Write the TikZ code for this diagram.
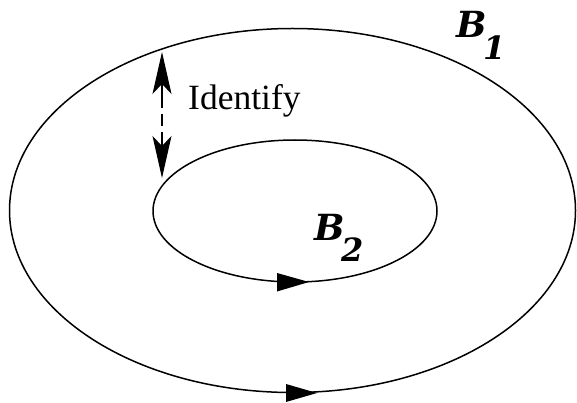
\documentclass[tikz,border=0pt]{standalone}
\usepackage{fontspec}
\setmainfont{Liberation Serif}
\newfontfamily\idfont{Liberation Serif}
\newfontfamily\labfont{DejaVu Serif}
\usetikzlibrary{arrows.meta}
\tikzset{
  curve/.style={line width=1.5pt},
  headtri/.style={fill=black},
  idtip/.style={-{Stealth[length=42pt,width=19pt,inset=10pt]}, line width=1.2pt},
  lab/.style={anchor=base west, inner sep=0pt},
}
\newcommand{\bsub}[2]{{\labfont\bfseries\itshape #1\kern-0.1em\raisebox{-0.6em}{\fontsize{32}{32}\selectfont #2}}}
\begin{document}
\begin{tikzpicture}[x=1pt,y=-1pt]
\useasboundingbox (0,0) rectangle (577,403);
% ellipses
\draw[curve] (292.5,210.5) ellipse [x radius=283, y radius=182];
\draw[curve] (295,211) ellipse [x radius=142, y radius=71];
% direction triangles
\fill[headtri] (277,273) -- (309,282) -- (277,291.5) -- cycle;
\fill[headtri] (286,384) -- (317,393) -- (286,402) -- cycle;
% identify arrow
\coordinate (ttop) at (162,52);
\coordinate (tbot) at (162,178);
\coordinate (btop) at (162,96);
\coordinate (bbot) at (162,132);
\draw[line width=1.2pt, dash pattern=on 12pt off 6pt] (btop) -- (bbot);
\draw[idtip] (btop) -- (ttop);
\draw[idtip] (bbot) -- (tbot);
\node[lab, font=\idfont\fontsize{35.5}{35.5}\selectfont] (id) at (188,110) {Identify};
\node[lab, font=\fontsize{36}{36}\selectfont] (b1) at (456,38) {\bsub{B}{1}};
\node[lab, font=\fontsize{36}{36}\selectfont] (b2) at (314,240) {\bsub{B}{2}};
\end{tikzpicture}
\end{document}
